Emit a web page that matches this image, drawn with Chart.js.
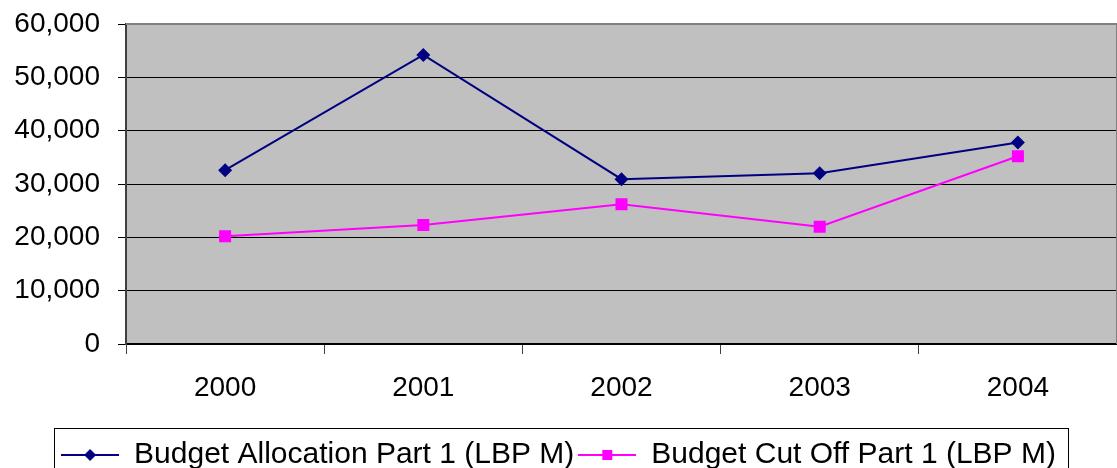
<!DOCTYPE html>
<html>
<head>
<meta charset="utf-8">
<script src="https://cdn.jsdelivr.net/npm/chart.js@4.4.1/dist/chart.umd.min.js"></script>
<style>
html,body{margin:0;padding:0;background:#fff;}
#wrap{width:1117px;height:468px;position:relative;}
</style>
</head>
<body>
<div id="wrap"><canvas id="c" width="1117" height="468"></canvas></div>
<script>
const categories = ['2000', '2001', '2002', '2003', '2004'];
const allocationValues = [32600, 54200, 30900, 32000, 37800];
const cutOffValues = [20200, 22300, 26200, 22000, 35200];
const seriesNames = ['Budget Allocation Part 1 (LBP M)', 'Budget Cut Off Part 1 (LBP M)'];
const yTicks = [0, 10000, 20000, 30000, 40000, 50000, 60000];

const FONT = "'Liberation Sans', Arial, sans-serif";
const NAVY = '#000080';
const PINK = '#FF00FF';

function legendIcon(color, shape) {
  const cv = document.createElement('canvas');
  cv.width = 58; cv.height = 16;
  const g = cv.getContext('2d');
  g.strokeStyle = color; g.lineWidth = 2;
  g.beginPath(); g.moveTo(0, 8); g.lineTo(58, 8); g.stroke();
  g.fillStyle = color;
  g.beginPath();
  if (shape === 'diamond') {
    g.moveTo(29, 2); g.lineTo(35, 8); g.lineTo(29, 14); g.lineTo(23, 8); g.closePath();
  } else {
    g.rect(24, 3, 10, 10);
  }
  g.fill();
  return cv;
}

const bgPlugin = {
  id: 'bg',
  beforeDraw(chart) {
    const a = chart.chartArea, ctx = chart.ctx;
    ctx.save();
    ctx.fillStyle = '#C0C0C0';
    ctx.fillRect(a.left, a.top, a.right - a.left, a.bottom - a.top);
    ctx.restore();
  },
  afterDraw(chart) {
    const a = chart.chartArea, ctx = chart.ctx;
    ctx.save();
    ctx.strokeStyle = '#808080'; ctx.lineWidth = 2;
    ctx.beginPath(); ctx.moveTo(a.left, a.top); ctx.lineTo(a.right, a.top); ctx.stroke();
    ctx.lineWidth = 1;
    ctx.beginPath(); ctx.moveTo(a.right - 0.5, a.top); ctx.lineTo(a.right - 0.5, a.bottom); ctx.stroke();
    // legend border
    const lg = chart.legend;
    if (lg && lg.legendHitBoxes && lg.legendHitBoxes.length) {
      const hb = lg.legendHitBoxes;
      let l = Infinity, r = -Infinity;
      hb.forEach(h => { l = Math.min(l, h.left); r = Math.max(r, h.left + h.width); });
      ctx.strokeStyle = '#000'; ctx.lineWidth = 1;
      ctx.strokeRect(Math.round(l - 7) + 0.5, 428.5, Math.round(r - l + 19), 60);
    }
    ctx.restore();
  }
};

new Chart(document.getElementById('c'), {
  type: 'line',
  data: {
    labels: categories,
    datasets: [
      {
        label: seriesNames[0],
        data: allocationValues,
        borderColor: NAVY, backgroundColor: NAVY,
        borderWidth: 2, pointStyle: 'rectRot', pointRadius: 7,
        pointBackgroundColor: NAVY, pointBorderColor: NAVY, pointBorderWidth: 0,
        tension: 0, fill: false
      },
      {
        label: seriesNames[1],
        data: cutOffValues,
        borderColor: PINK, backgroundColor: PINK,
        borderWidth: 2, pointStyle: 'rect', pointRadius: 8.5,
        pointBackgroundColor: PINK, pointBorderColor: PINK, pointBorderWidth: 0,
        tension: 0, fill: false
      }
    ]
  },
  options: {
    responsive: false,
    animation: false,
    layout: { autoPadding: false, padding: { left: 0, right: 0, top: 24, bottom: -12 } },
    plugins: {
      tooltip: { enabled: false },
      legend: {
        position: 'bottom',
        labels: {
          usePointStyle: true,
          pointStyleWidth: 58,
          padding: 4,
          color: '#000',
          font: { family: FONT, size: 30, lineHeight: 1 },
          generateLabels(chart) {
            return chart.data.datasets.map((ds, i) => ({
              text: ds.label,
              pointStyle: legendIcon(ds.borderColor, i === 0 ? 'diamond' : 'square'),
              fillStyle: ds.borderColor,
              strokeStyle: ds.borderColor,
              lineWidth: 0,
              fontColor: '#000',
              datasetIndex: i,
              hidden: false
            }));
          }
        }
      }
    },
    scales: {
      x: {
        offset: true,
        grid: { display: true, drawOnChartArea: false, offset: true, color: '#404040', tickLength: 10, lineWidth: 1 },
        border: { display: true, color: '#000', width: 2 },
        ticks: { color: '#000', font: { family: FONT, size: 28 }, padding: 17, maxRotation: 0 },
        afterFit(s) { s.height = 92; s.paddingLeft = 0; s.paddingRight = 0; }
      },
      y: {
        min: 0, max: 60000,
        afterBuildTicks(s) { s.ticks = yTicks.map(v => ({ value: v })); },
        grid: { color: '#000', tickLength: 8, lineWidth: 1, drawTicks: true },
        border: { display: true, color: '#404040', width: 2 },
        ticks: {
          color: '#000', font: { family: FONT, size: 28 }, padding: 18,
          callback: v => Number(v).toLocaleString('en-US')
        },
        afterFit(s) { s.width = 126; s.paddingTop = 0; s.paddingBottom = 0; }
      }
    }
  },
  plugins: [bgPlugin]
});
</script>
</body>
</html>
